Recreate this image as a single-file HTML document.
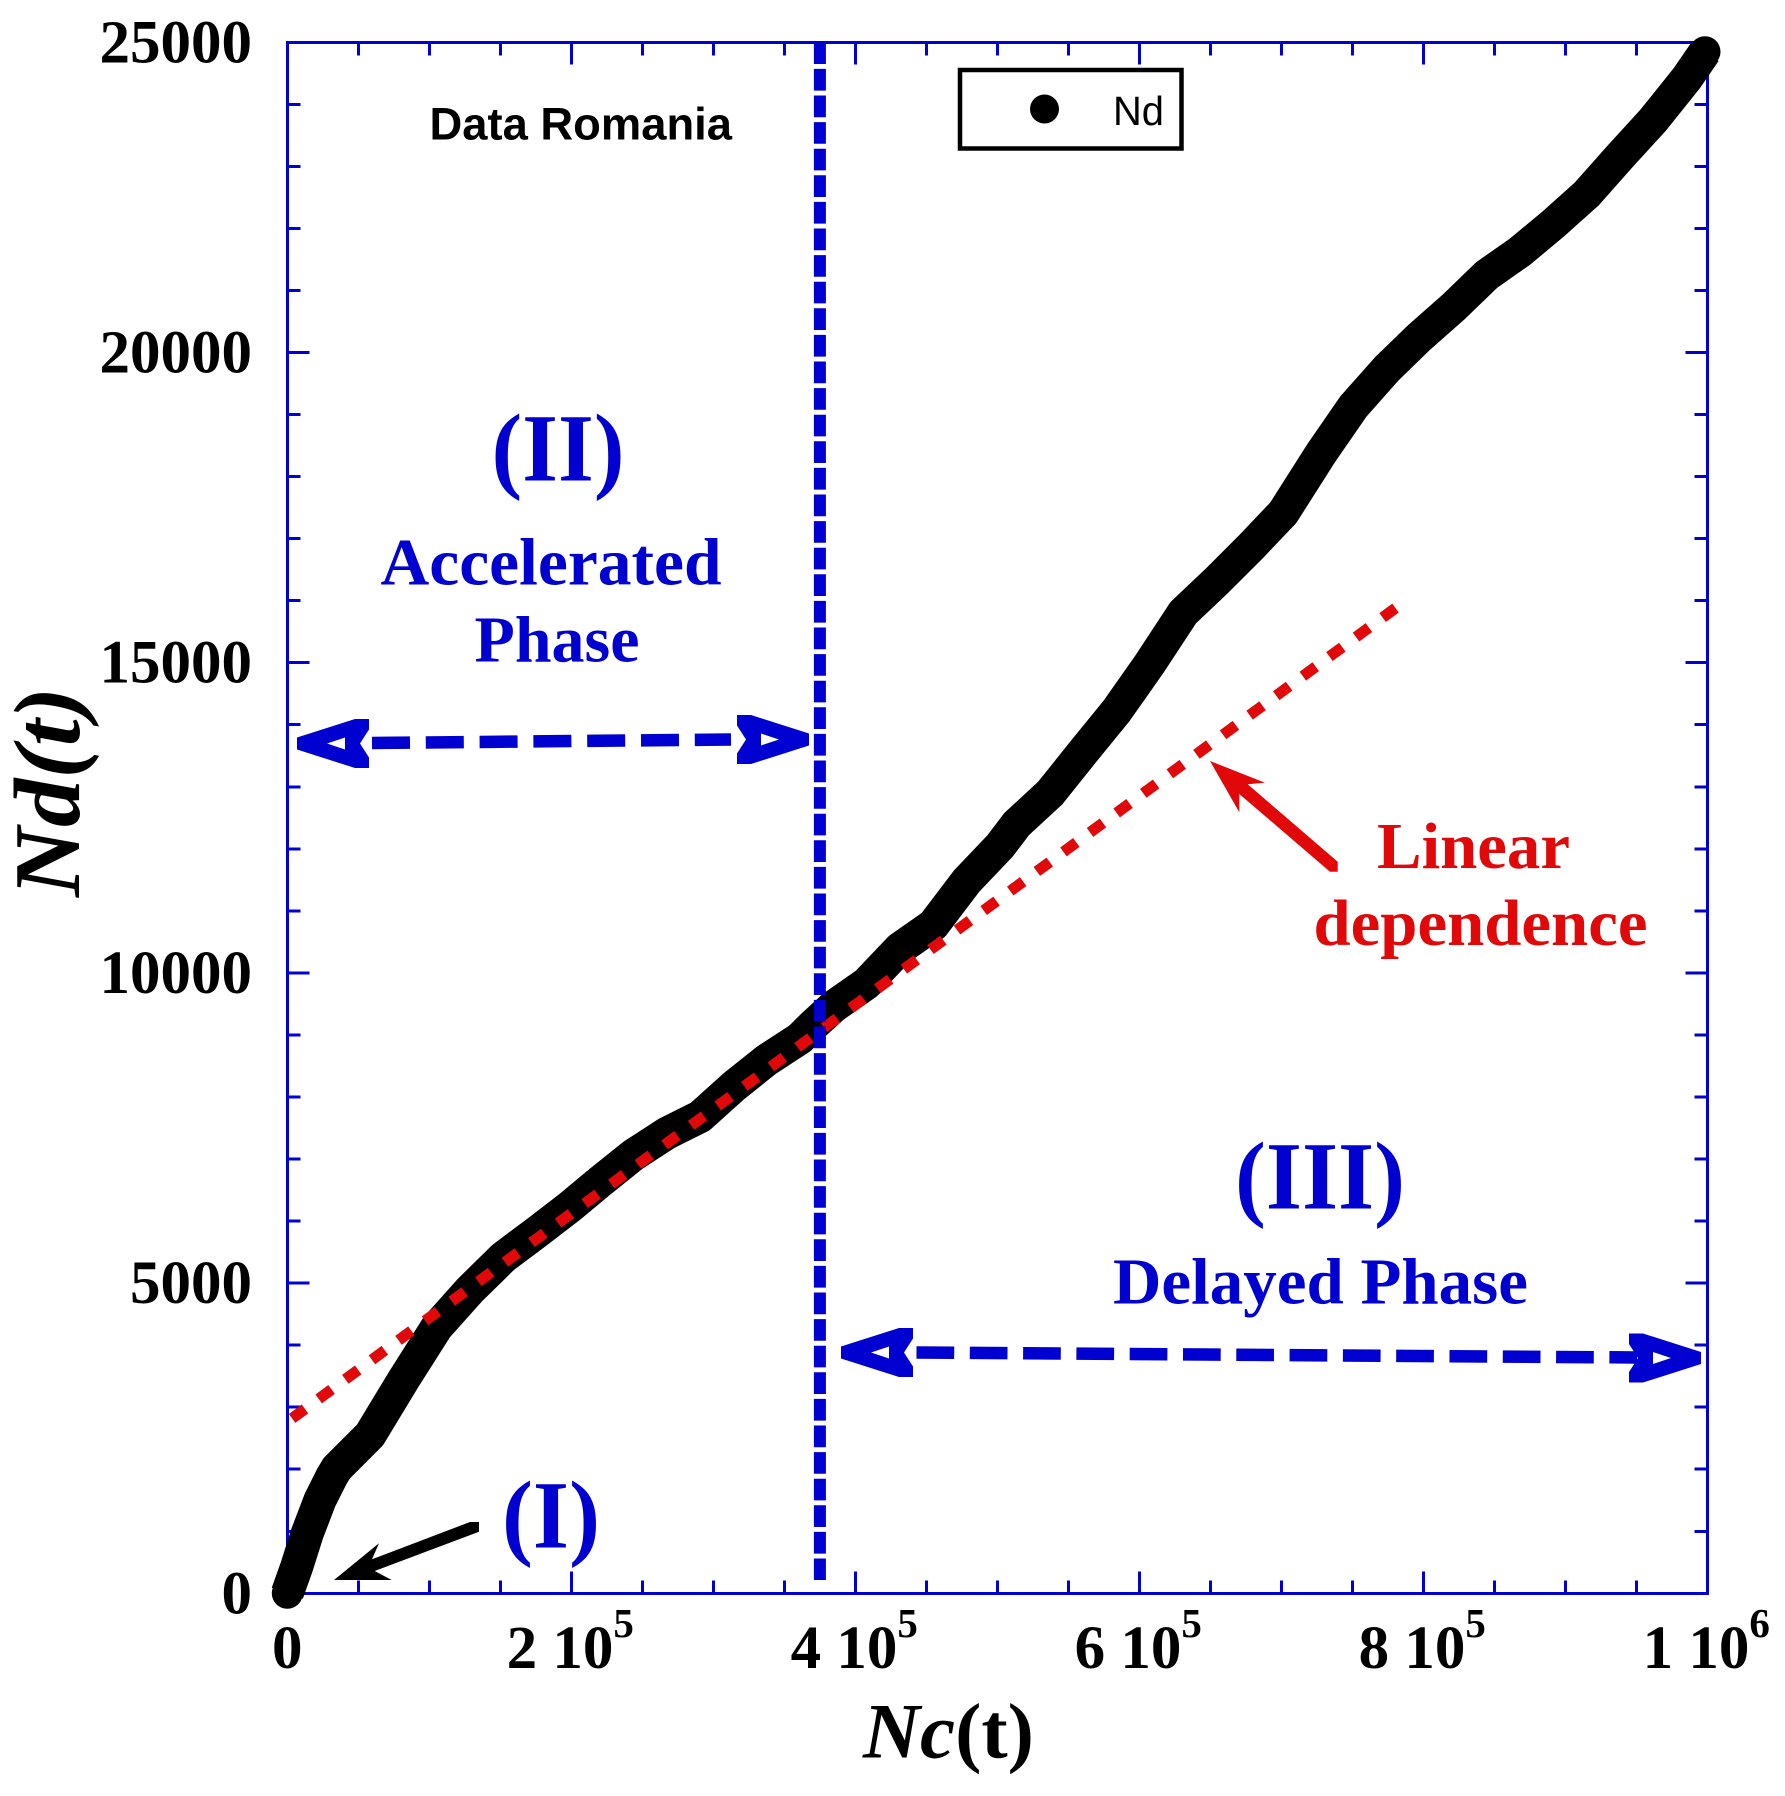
<!DOCTYPE html>
<html lang="en">
<head>
<meta charset="utf-8">
<title>Nd versus Nc, Data Romania</title>
<style>
html,body{margin:0;padding:0;background:#fff;width:1785px;height:1796px;overflow:hidden}
svg{display:block}
.serif{font-family:"Liberation Serif","Times New Roman",serif;font-weight:bold}
.sans{font-family:"Liberation Sans",Arial,sans-serif}
.blue{fill:#0000d0}
.red{fill:#e00808}
</style>
</head>
<body>
<svg id="chart" xmlns="http://www.w3.org/2000/svg" width="1785" height="1796" viewBox="0 0 1785 1796">
  <rect x="0" y="0" width="1785" height="1796" fill="#ffffff"/>
  <g id="axes"></g>
  <g id="marks"></g>

  <text class="sans" x="429.5" y="139.5" font-size="45" font-weight="bold" textLength="302.5" lengthAdjust="spacingAndGlyphs">Data Romania</text>

  <g>
    <rect x="960" y="70" width="221.5" height="78.5" fill="none" stroke="#000" stroke-width="4.5"/>
    <circle cx="1044.5" cy="109" r="14.5" fill="#000"/>
    <text class="sans" x="1113" y="125" font-size="41" textLength="51" lengthAdjust="spacingAndGlyphs">Nd</text>
  </g>

  <text class="serif blue" x="491.5" y="480.5" font-size="96" textLength="133" lengthAdjust="spacingAndGlyphs">(II)</text>
  <text class="serif blue" x="380.5" y="584.5" font-size="67" textLength="341" lengthAdjust="spacingAndGlyphs">Accelerated</text>
  <text class="serif blue" x="474.5" y="661.5" font-size="66" textLength="165" lengthAdjust="spacingAndGlyphs">Phase</text>
  <text class="serif blue" x="1235" y="1208.5" font-size="96" textLength="170" lengthAdjust="spacingAndGlyphs">(III)</text>
  <text class="serif blue" x="1113" y="1303.5" font-size="66" textLength="415" lengthAdjust="spacingAndGlyphs">Delayed Phase</text>
  <text class="serif blue" x="502" y="1547.5" font-size="96" textLength="98" lengthAdjust="spacingAndGlyphs">(I)</text>
  <text class="serif red" x="1377" y="868" font-size="66" textLength="193" lengthAdjust="spacingAndGlyphs">Linear</text>
  <text class="serif red" x="1313.5" y="945" font-size="66" textLength="334" lengthAdjust="spacingAndGlyphs">dependence</text>

  <g fill="#0000d0">
    <path fill-rule="evenodd" transform="translate(297,743.5)" d="M0,-6 L58,-24.5 L72,-24.5 L72,-14 L63,0 L72,14 L72,24.5 L58,24.5 L0,6 Z M30,0 L48,6 L48,-6 Z"/>
    <line x1="372" y1="743" x2="731" y2="739.5" stroke="#0000d0" stroke-width="12.5" stroke-dasharray="38 15.8"/>
    <path fill-rule="evenodd" transform="translate(809,739.5) scale(-1,1)" d="M0,-6 L58,-24.5 L72,-24.5 L72,-14 L63,0 L72,14 L72,24.5 L58,24.5 L0,6 Z M30,0 L48,6 L48,-6 Z"/>
  </g>
  <g fill="#0000d0">
    <path fill-rule="evenodd" transform="translate(841,1352.5)" d="M0,-6 L58,-24.5 L72,-24.5 L72,-14 L63,0 L72,14 L72,24.5 L58,24.5 L0,6 Z M30,0 L48,6 L48,-6 Z"/>
    <line x1="916.5" y1="1352.5" x2="1637" y2="1357.5" stroke="#0000d0" stroke-width="12.5" stroke-dasharray="37.7 15.6"/>
    <path fill-rule="evenodd" transform="translate(1701,1358) scale(-1,1)" d="M0,-6 L58,-24.5 L72,-24.5 L72,-14 L63,0 L72,14 L72,24.5 L58,24.5 L0,6 Z M30,0 L48,6 L48,-6 Z"/>
  </g>

  <polygon fill="#000" points="334,1580 379,1543.3 372,1559.3 470,1522 479,1522 479,1531.7 374.7,1571 391.7,1580"/>
  <polygon fill="#e00808" points="1210,761 1265,782.7 1247.7,784.3 1337.7,861.7 1337.7,871.7 1330,871.7 1239.3,794 1239.3,812.3"/>

  <text class="serif" x="863" y="1757.5" font-size="78" fill="#000" textLength="171" lengthAdjust="spacingAndGlyphs"><tspan font-style="italic">Nc</tspan>(t)</text>
  <text class="serif" transform="translate(79,897) rotate(-90)" x="0" y="0" font-size="94" font-style="italic" fill="#000" textLength="210" lengthAdjust="spacingAndGlyphs">Nd(t)</text>
</svg>
<script>
const ncValues = [0, 6620, 14084, 23028, 31266, 34787, 58237, 81687, 105207, 128657, 152107, 175627, 199077, 220203, 243653, 267172, 290621, 314071, 337590, 361040, 370407, 384491, 408010, 431463, 454913, 478428, 501893, 513650, 537103, 560553, 584070, 607520, 630970, 654490, 677940, 701390, 727940, 750650, 774200, 797640, 821100, 844630, 868060, 891510, 915070, 938450, 961950, 985500, 998350];
const ndValues = [0, 429, 967, 1504, 1880, 2015, 2552, 3438, 4288, 4889, 5416, 5819, 6232, 6635, 7065, 7415, 7682, 8166, 8596, 8946, 9160, 9455, 9833, 10397, 10772, 11481, 12045, 12400, 12895, 13566, 14227, 14991, 15807, 16317, 16854, 17418, 18373, 19127, 19735, 20255, 20729, 21250, 21625, 22072, 22555, 23157, 23748, 24420, 24849];
// Linear fit endpoints
const fitNc = [2000, 781450];
const fitNd = [2795, 15898];
// Phase boundary
const boundaryNc = [375100, 375100];
const boundaryNd = [25000, 214];
// Axis ticks
const xMajorTicks = [0, 200000, 400000, 600000, 800000, 1000000];
const xMinorTicks = [50000, 100000, 150000, 250000, 300000, 350000, 450000, 500000, 550000, 650000, 700000, 750000, 850000, 900000, 950000];
const yMajorTicks = [0, 5000, 10000, 15000, 20000, 25000];
const yMinorTicks = [1000, 2000, 3000, 4000, 6000, 7000, 8000, 9000, 11000, 12000, 13000, 14000, 16000, 17000, 18000, 19000, 21000, 22000, 23000, 24000];
const yTickLabels = ['0', '5000', '10000', '15000', '20000', '25000'];
const xTickMantissas = ['0', '2 10', '4 10', '6 10', '8 10', '1 10'];
const xTickExponents = ['', '5', '5', '5', '5', '6'];

const NS = 'http://www.w3.org/2000/svg';
const PLOT_LEFT = 287.3, PLOT_RIGHT = 1707.3, PLOT_TOP = 42.3, PLOT_BOTTOM = 1593.3;
const X_MAX = 1000000, Y_MAX = 25000;
const AXIS_BLUE = '#0000d0';
function xScale(v) { return PLOT_LEFT + (v / X_MAX) * (PLOT_RIGHT - PLOT_LEFT); }
function yScale(v) { return PLOT_BOTTOM - (v / Y_MAX) * (PLOT_BOTTOM - PLOT_TOP); }
function make(tag, parent) {
  const el = document.createElementNS(NS, tag);
  parent.appendChild(el);
  return el;
}
function pointList(xs, ys) {
  return xs.map(function (v, i) { return xScale(v).toFixed(1) + ',' + yScale(ys[i]).toFixed(1); }).join(' ');
}
function tickLine(parent, x1, y1, x2, y2, name) {
  const el = make('line', parent);
  
  
  el.setAttribute('x1', x1);
  el.setAttribute('y1', y1);
  el.setAttribute('x2', x2);
  el.setAttribute('y2', y2);
  el.setAttribute('stroke', AXIS_BLUE);
  el.setAttribute('stroke-width', '3');
  el.setAttribute('shape-rendering', 'crispEdges');
}

const axes = document.getElementById('axes');
const marks = document.getElementById('marks');

const frame = make('rect', axes);


frame.setAttribute('x', PLOT_LEFT);
frame.setAttribute('y', PLOT_TOP);
frame.setAttribute('width', PLOT_RIGHT - PLOT_LEFT);
frame.setAttribute('height', PLOT_BOTTOM - PLOT_TOP);
frame.setAttribute('fill', 'none');
frame.setAttribute('stroke', AXIS_BLUE);
frame.setAttribute('stroke-width', '3');
frame.setAttribute('shape-rendering', 'crispEdges');

const MAJOR = 22, MINOR = 13;
xMajorTicks.forEach(function (v) {
  tickLine(axes, xScale(v), PLOT_BOTTOM, xScale(v), PLOT_BOTTOM - MAJOR, 'x-major-tick');
  tickLine(axes, xScale(v), PLOT_TOP, xScale(v), PLOT_TOP + MAJOR, 'x-major-tick-top');
});
xMinorTicks.forEach(function (v) {
  tickLine(axes, xScale(v), PLOT_BOTTOM, xScale(v), PLOT_BOTTOM - MINOR, 'x-minor-tick');
  tickLine(axes, xScale(v), PLOT_TOP, xScale(v), PLOT_TOP + MINOR, 'x-minor-tick-top');
});
yMajorTicks.forEach(function (v) {
  tickLine(axes, PLOT_LEFT, yScale(v), PLOT_LEFT + MAJOR, yScale(v), 'y-major-tick');
  tickLine(axes, PLOT_RIGHT, yScale(v), PLOT_RIGHT - MAJOR, yScale(v), 'y-major-tick-right');
});
yMinorTicks.forEach(function (v) {
  tickLine(axes, PLOT_LEFT, yScale(v), PLOT_LEFT + MINOR, yScale(v), 'y-minor-tick');
  tickLine(axes, PLOT_RIGHT, yScale(v), PLOT_RIGHT - MINOR, yScale(v), 'y-minor-tick-right');
});

yMajorTicks.forEach(function (v, i) {
  const t = make('text', axes);
  
  
  t.setAttribute('class', 'serif');
  t.setAttribute('x', 252);
  t.setAttribute('y', yScale(v) + 20);
  t.setAttribute('font-size', '61');
  t.setAttribute('text-anchor', 'end');
  t.textContent = yTickLabels[i];
});
xMajorTicks.forEach(function (v, i) {
  const t = make('text', axes);
  
  
  t.setAttribute('class', 'serif');
  t.setAttribute('x', xScale(v) - (i === 0 ? 0 : 1));
  t.setAttribute('y', 1668);
  t.setAttribute('font-size', '61');
  t.setAttribute('text-anchor', 'middle');
  t.textContent = xTickMantissas[i];
  if (xTickExponents[i]) {
    const sup = make('tspan', t);
    
    
    sup.setAttribute('font-size', '41');
    sup.setAttribute('dy', '-31');
    sup.textContent = xTickExponents[i];
  }
});

const seriesLine = make('polyline', marks);


seriesLine.setAttribute('points', pointList(ncValues, ndValues));
seriesLine.setAttribute('fill', 'none');
seriesLine.setAttribute('stroke', '#000');
seriesLine.setAttribute('stroke-width', '33');
seriesLine.setAttribute('stroke-linejoin', 'round');
seriesLine.setAttribute('stroke-linecap', 'butt');

ncValues.forEach(function (v, i) {
  const c = make('circle', marks);
  
  
  c.setAttribute('cx', xScale(v).toFixed(1));
  c.setAttribute('cy', yScale(ndValues[i]).toFixed(1));
  c.setAttribute('r', '15.5');
  c.setAttribute('fill', '#000');
});

const fitLine = make('polyline', marks);


fitLine.setAttribute('points', pointList(fitNc, fitNd));
fitLine.setAttribute('fill', 'none');
fitLine.setAttribute('stroke', '#e00808');
fitLine.setAttribute('stroke-width', '11');
fitLine.setAttribute('stroke-dasharray', '16 17');
fitLine.setAttribute('stroke-dashoffset', '-2.5');

const boundary = make('polyline', marks);


boundary.setAttribute('points', pointList(boundaryNc, boundaryNd));
boundary.setAttribute('fill', 'none');
boundary.setAttribute('stroke', '#0000d0');
boundary.setAttribute('stroke-width', '12');
boundary.setAttribute('stroke-dasharray', '21.7 4.9');
</script>
</body>
</html>
